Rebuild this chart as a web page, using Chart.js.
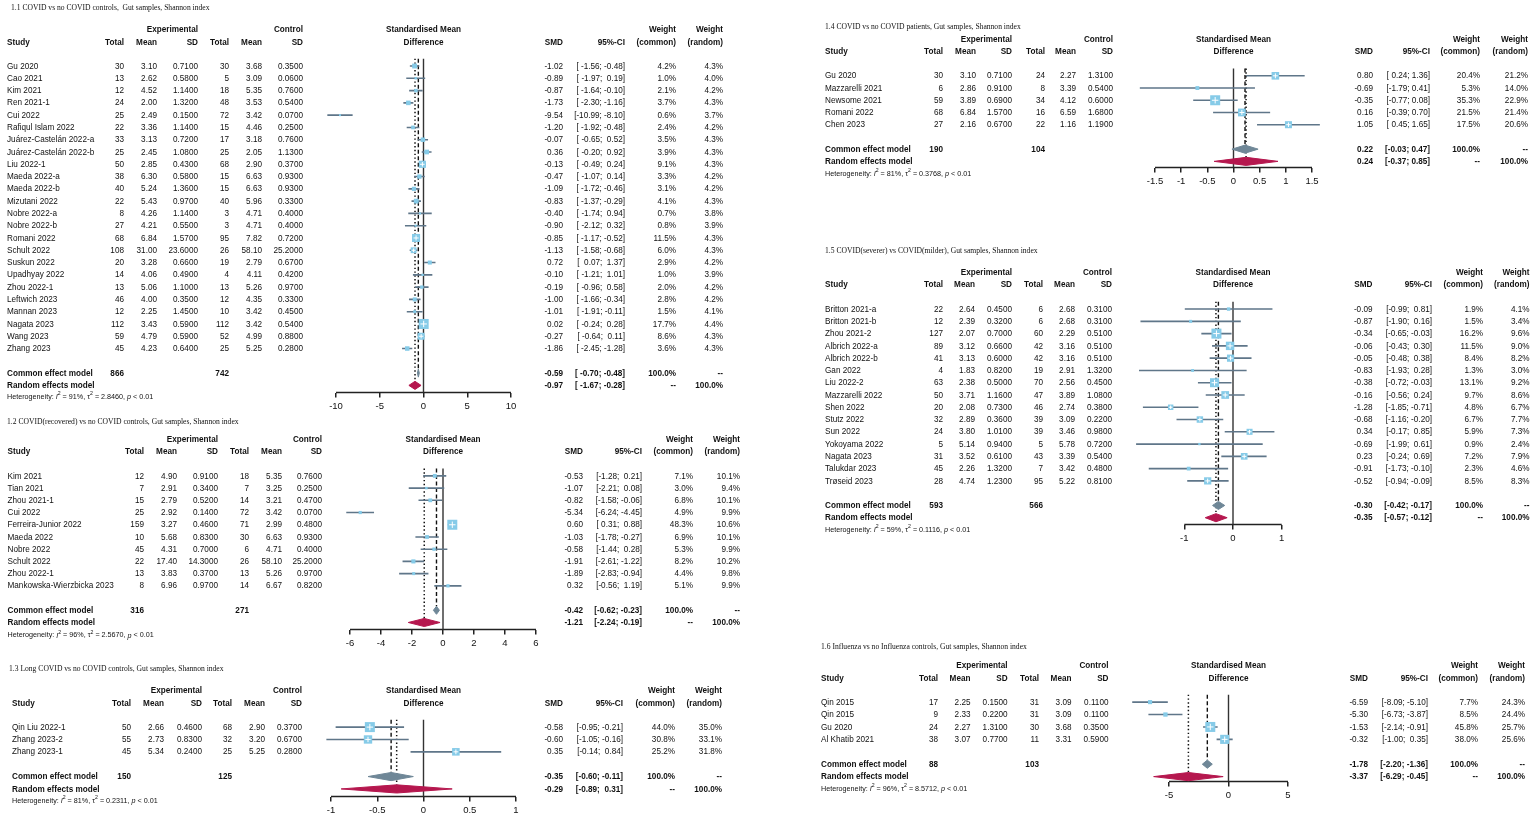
<!DOCTYPE html>
<html>
<head>
<meta charset="utf-8">
<script src="https://cdn.jsdelivr.net/npm/chart.js@4.4.1/dist/chart.umd.min.js"></script>
<style>
  html, body { margin: 0; padding: 0; background: #fff; width: 1535px; height: 818px; overflow: hidden; }
  body { position: relative; }
  canvas { position: absolute; }
</style>
</head>
<body>
<canvas id="p1"></canvas>
<canvas id="p2"></canvas>
<canvas id="p3"></canvas>
<canvas id="p4"></canvas>
<canvas id="p5"></canvas>
<canvas id="p6"></canvas>
<script>
// ---------- 1.1 COVID vs no COVID controls ----------
const title1 = '1.1 COVID vs no COVID controls,  Gut samples, Shannon index';
const studies1 = ['Gu 2020', 'Cao 2021', 'Kim 2021', 'Ren 2021-1', 'Cui 2022', 'Rafiqul Islam 2022',
  'Juárez-Castelán 2022-a', 'Juárez-Castelán 2022-b', 'Liu 2022-1', 'Maeda 2022-a', 'Maeda 2022-b',
  'Mizutani 2022', 'Nobre 2022-a', 'Nobre 2022-b', 'Romani 2022', 'Schult 2022', 'Suskun 2022',
  'Upadhyay 2022', 'Zhou 2022-1', 'Leftwich 2023', 'Mannan 2023', 'Nagata 2023', 'Wang 2023', 'Zhang 2023'];
const expN1 = [30, 13, 12, 24, 25, 22, 33, 25, 50, 38, 40, 22, 8, 27, 68, 108, 20, 14, 13, 46, 12, 112, 59, 45];
const expMean1 = [3.10, 2.62, 4.52, 2.00, 2.49, 3.36, 3.13, 2.45, 2.85, 6.30, 5.24, 5.43, 4.26, 4.21, 6.84, 31.00, 3.28, 4.06, 5.06, 4.00, 2.25, 3.43, 4.79, 4.23];
const expSD1 = [0.71, 0.58, 1.14, 1.32, 0.15, 1.14, 0.72, 1.08, 0.43, 0.58, 1.36, 0.97, 1.14, 0.55, 1.57, 23.6, 0.66, 0.49, 1.10, 0.35, 1.45, 0.59, 0.59, 0.64];
const ctlN1 = [30, 5, 18, 48, 72, 15, 17, 25, 68, 15, 15, 40, 3, 3, 95, 26, 19, 4, 13, 12, 10, 112, 52, 25];
const ctlMean1 = [3.68, 3.09, 5.35, 3.53, 3.42, 4.46, 3.18, 2.05, 2.90, 6.63, 6.63, 5.96, 4.71, 4.71, 7.82, 58.10, 2.79, 4.11, 5.26, 4.35, 3.42, 3.42, 4.99, 5.25];
const ctlSD1 = [0.35, 0.06, 0.76, 0.54, 0.07, 0.25, 0.76, 1.13, 0.37, 0.93, 0.93, 0.33, 0.40, 0.40, 0.72, 25.2, 0.67, 0.42, 0.97, 0.33, 0.45, 0.54, 0.88, 0.28];
const smd1 = [-1.02, -0.89, -0.87, -1.73, -9.54, -1.20, -0.07, 0.36, -0.13, -0.47, -1.09, -0.83, -0.40, -0.90, -0.85, -1.13, 0.72, -0.10, -0.19, -1.00, -1.01, 0.02, -0.27, -1.86];
const ciLo1 = [-1.56, -1.97, -1.64, -2.30, -10.99, -1.92, -0.65, -0.20, -0.49, -1.07, -1.72, -1.37, -1.74, -2.12, -1.17, -1.58, 0.07, -1.21, -0.96, -1.66, -1.91, -0.24, -0.64, -2.45];
const ciHi1 = [-0.48, 0.19, -0.10, -1.16, -8.10, -0.48, 0.52, 0.92, 0.24, 0.14, -0.46, -0.29, 0.94, 0.32, -0.52, -0.68, 1.37, 1.01, 0.58, -0.34, -0.11, 0.28, 0.11, -1.28];
const wCommon1 = [4.2, 1.0, 2.1, 3.7, 0.6, 2.4, 3.5, 3.9, 9.1, 3.3, 3.1, 4.1, 0.7, 0.8, 11.5, 6.0, 2.9, 1.0, 2.0, 2.8, 1.5, 17.7, 8.6, 3.6];
const wRandom1 = [4.3, 4.0, 4.2, 4.3, 3.7, 4.2, 4.3, 4.3, 4.3, 4.2, 4.2, 4.3, 3.8, 3.9, 4.3, 4.3, 4.2, 3.9, 4.2, 4.2, 4.1, 4.4, 4.3, 4.3];
const common1 = [-0.59, -0.70, -0.48];
const random1 = [-0.97, -1.67, -0.28];
const totals1 = [866, 742];
const het1 = ['91%', '2.8460', '< 0.01'];
const ticks1 = [-10, -5, 0, 5, 10];

// ---------- 1.2 COVID(recovered) vs no COVID controls ----------
const title2 = '1.2 COVID(recovered) vs no COVID controls, Gut samples, Shannon index';
const studies2 = ['Kim 2021', 'Tian 2021', 'Zhou 2021-1', 'Cui 2022', 'Ferreira-Junior 2022', 'Maeda 2022',
  'Nobre 2022', 'Schult 2022', 'Zhou 2022-1', 'Mankowska-Wierzbicka 2023'];
const expN2 = [12, 7, 15, 25, 159, 10, 45, 22, 13, 8];
const expMean2 = [4.90, 2.91, 2.79, 2.92, 3.27, 5.68, 4.31, 17.40, 3.83, 6.96];
const expSD2 = [0.91, 0.34, 0.52, 0.14, 0.46, 0.83, 0.70, 14.3, 0.37, 0.97];
const ctlN2 = [18, 7, 14, 72, 71, 30, 6, 26, 13, 14];
const ctlMean2 = [5.35, 3.25, 3.21, 3.42, 2.99, 6.63, 4.71, 58.10, 5.26, 6.67];
const ctlSD2 = [0.76, 0.25, 0.47, 0.07, 0.48, 0.93, 0.40, 25.2, 0.97, 0.82];
const smd2 = [-0.53, -1.07, -0.82, -5.34, 0.60, -1.03, -0.58, -1.91, -1.89, 0.32];
const ciLo2 = [-1.28, -2.21, -1.58, -6.24, 0.31, -1.78, -1.44, -2.61, -2.83, -0.56];
const ciHi2 = [0.21, 0.08, -0.06, -4.45, 0.88, -0.27, 0.28, -1.22, -0.94, 1.19];
const wCommon2 = [7.1, 3.0, 6.8, 4.9, 48.3, 6.9, 5.3, 8.2, 4.4, 5.1];
const wRandom2 = [10.1, 9.4, 10.1, 9.9, 10.6, 10.1, 9.9, 10.2, 9.8, 9.9];
const common2 = [-0.42, -0.62, -0.23];
const random2 = [-1.21, -2.24, -0.19];
const totals2 = [316, 271];
const het2 = ['96%', '2.5670', '< 0.01'];
const ticks2 = [-6, -4, -2, 0, 2, 4, 6];

// ---------- 1.3 Long COVID vs no COVID controls ----------
const title3 = '1.3 Long COVID vs no COVID controls, Gut samples, Shannon index';
const studies3 = ['Qin Liu 2022-1', 'Zhang 2023-2', 'Zhang 2023-1'];
const expN3 = [50, 55, 45];
const expMean3 = [2.66, 2.73, 5.34];
const expSD3 = [0.46, 0.83, 0.24];
const ctlN3 = [68, 32, 25];
const ctlMean3 = [2.90, 3.20, 5.25];
const ctlSD3 = [0.37, 0.67, 0.28];
const smd3 = [-0.58, -0.60, 0.35];
const ciLo3 = [-0.95, -1.05, -0.14];
const ciHi3 = [-0.21, -0.16, 0.84];
const wCommon3 = [44.0, 30.8, 25.2];
const wRandom3 = [35.0, 33.1, 31.8];
const common3 = [-0.35, -0.60, -0.11];
const random3 = [-0.29, -0.89, 0.31];
const totals3 = [150, 125];
const het3 = ['81%', '0.2311', '< 0.01'];
const ticks3 = [-1, -0.5, 0, 0.5, 1];

// ---------- 1.4 COVID vs no COVID patients ----------
const title4 = '1.4 COVID vs no COVID patients, Gut samples, Shannon index';
const studies4 = ['Gu 2020', 'Mazzarelli 2021', 'Newsome 2021', 'Romani 2022', 'Chen 2023'];
const expN4 = [30, 6, 59, 68, 27];
const expMean4 = [3.10, 2.86, 3.89, 6.84, 2.16];
const expSD4 = [0.71, 0.91, 0.69, 1.57, 0.67];
const ctlN4 = [24, 8, 34, 16, 22];
const ctlMean4 = [2.27, 3.39, 4.12, 6.59, 1.16];
const ctlSD4 = [1.31, 0.54, 0.60, 1.68, 1.19];
const smd4 = [0.80, -0.69, -0.35, 0.16, 1.05];
const ciLo4 = [0.24, -1.79, -0.77, -0.39, 0.45];
const ciHi4 = [1.36, 0.41, 0.08, 0.70, 1.65];
const wCommon4 = [20.4, 5.3, 35.3, 21.5, 17.5];
const wRandom4 = [21.2, 14.0, 22.9, 21.4, 20.6];
const common4 = [0.22, -0.03, 0.47];
const random4 = [0.24, -0.37, 0.85];
const totals4 = [190, 104];
const het4 = ['81%', '0.3768', '< 0.01'];
const ticks4 = [-1.5, -1, -0.5, 0, 0.5, 1, 1.5];

// ---------- 1.5 COVID(severer) vs COVID(milder) ----------
const title5 = '1.5 COVID(severer) vs COVID(milder), Gut samples, Shannon index';
const studies5 = ['Britton 2021-a', 'Britton 2021-b', 'Zhou 2021-2', 'Albrich 2022-a', 'Albrich 2022-b', 'Gan 2022',
  'Liu 2022-2', 'Mazzarelli 2022', 'Shen 2022', 'Stutz 2022', 'Sun 2022', 'Yokoyama 2022', 'Nagata 2023',
  'Talukdar 2023', 'Trøseid 2023'];
const expN5 = [22, 12, 127, 89, 41, 4, 63, 50, 20, 32, 24, 5, 31, 45, 28];
const expMean5 = [2.64, 2.39, 2.07, 3.12, 3.13, 1.83, 2.38, 3.71, 2.08, 2.89, 3.80, 5.14, 3.52, 2.26, 4.74];
const expSD5 = [0.45, 0.32, 0.70, 0.66, 0.60, 0.82, 0.50, 1.16, 0.73, 0.36, 1.01, 0.94, 0.61, 1.32, 1.23];
const ctlN5 = [6, 6, 60, 42, 42, 19, 70, 47, 46, 39, 39, 5, 43, 7, 95];
const ctlMean5 = [2.68, 2.68, 2.29, 3.16, 3.16, 2.91, 2.56, 3.89, 2.74, 3.09, 3.46, 5.78, 3.39, 3.42, 5.22];
const ctlSD5 = [0.31, 0.31, 0.51, 0.51, 0.51, 1.32, 0.45, 1.08, 0.38, 0.22, 0.98, 0.72, 0.54, 0.48, 0.81];
const smd5 = [-0.09, -0.87, -0.34, -0.06, -0.05, -0.83, -0.38, -0.16, -1.28, -0.68, 0.34, -0.69, 0.23, -0.91, -0.52];
const ciLo5 = [-0.99, -1.90, -0.65, -0.43, -0.48, -1.93, -0.72, -0.56, -1.85, -1.16, -0.17, -1.99, -0.24, -1.73, -0.94];
const ciHi5 = [0.81, 0.16, -0.03, 0.30, 0.38, 0.28, -0.03, 0.24, -0.71, -0.20, 0.85, 0.61, 0.69, -0.10, -0.09];
const wCommon5 = [1.9, 1.5, 16.2, 11.5, 8.4, 1.3, 13.1, 9.7, 4.8, 6.7, 5.9, 0.9, 7.2, 2.3, 8.5];
const wRandom5 = [4.1, 3.4, 9.6, 9.0, 8.2, 3.0, 9.2, 8.6, 6.7, 7.7, 7.3, 2.4, 7.9, 4.6, 8.3];
const common5 = [-0.30, -0.42, -0.17];
const random5 = [-0.35, -0.57, -0.12];
const totals5 = [593, 566];
const het5 = ['59%', '0.1116', '< 0.01'];
const ticks5 = [-1, 0, 1];

// ---------- 1.6 Influenza vs no Influenza controls ----------
const title6 = '1.6 Influenza vs no Influenza controls, Gut samples, Shannon index';
const studies6 = ['Qin 2015', 'Qin 2015', 'Gu 2020', 'Al Khatib 2021'];
const expN6 = [17, 9, 24, 38];
const expMean6 = [2.25, 2.33, 2.27, 3.07];
const expSD6 = [0.15, 0.22, 1.31, 0.77];
const ctlN6 = [31, 31, 30, 11];
const ctlMean6 = [3.09, 3.09, 3.68, 3.31];
const ctlSD6 = [0.11, 0.11, 0.35, 0.59];
const smd6 = [-6.59, -5.30, -1.53, -0.32];
const ciLo6 = [-8.09, -6.73, -2.14, -1.00];
const ciHi6 = [-5.10, -3.87, -0.91, 0.35];
const wCommon6 = [7.7, 8.5, 45.8, 38.0];
const wRandom6 = [24.3, 24.4, 25.7, 25.6];
const common6 = [-1.78, -2.20, -1.36];
const random6 = [-3.37, -6.29, -0.45];
const totals6 = [88, 103];
const het6 = ['96%', '8.5712', '< 0.01'];
const ticks6 = [-5, 0, 5];

// ---------- drawing ----------
const SX = 0.86;
const FS = 9.5;
const SANS = '"Liberation Sans", Arial, Helvetica, sans-serif';
const SERIF = '"Liberation Serif", "Times New Roman", serif';
const TXT = '#111';
const BOX = '#86cbe8';
const CI_COL = '#5f7689';
const COMMON_COL = '#6f8797';
const RANDOM_COL = '#b5174e';
const TICK_FONT = 9.5, TICK_LEN = 5, TICK_PAD = 3;

function text(ctx, s, x, y, align, font, sx) {
  ctx.save();
  ctx.font = font;
  ctx.fillStyle = TXT;
  ctx.textAlign = align;
  ctx.textBaseline = 'middle';
  ctx.translate(x, y);
  ctx.scale(sx || SX, 1);
  ctx.fillText(s, 0, 0);
  ctx.restore();
}

function runs(ctx, parts, x, y) {
  let cx = x;
  parts.forEach(([s, font, dy]) => {
    ctx.font = font;
    text(ctx, s, cx, y + (dy || 0), 'left', font, 1);
    cx += ctx.measureText(s).width;
  });
}

function forest(id, d, L) {
  const n = d.study.length;
  const rowC = n + 1, rowR = n + 2;
  const t0 = d.ticks[0], t1 = d.ticks[d.ticks.length - 1];
  const ppu = (L.pxR - L.pxL) / (t1 - t0);
  const span = t1 - t0;
  const dmin = Math.min(t0, ...d.lo, d.random[1]) - 0.05 * span;
  const dmax = Math.max(t1, ...d.hi, d.random[2]) + 0.05 * span;
  const areaL = L.pxL - (t0 - dmin) * ppu;
  const areaR = L.pxR + (dmax - t1) * ppu;
  const axisH = TICK_LEN + TICK_FONT * 1.2 + 2 * TICK_PAD;

  const cv = document.getElementById(id);
  cv.width = L.width;
  cv.height = Math.round(L.axisY - L.top + axisH);
  cv.style.left = L.left + 'px';
  cv.style.top = L.top + 'px';

  const yMin = (L.top - L.y0) / L.rowH;
  const axisRow = (L.axisY - L.y0) / L.rowH;
  const topRow = -0.6;
  const dh = 0.33;

  const wMax = Math.max(...d.wCom);
  const side = d.wCom.map(w => Math.max(2, 10 * Math.sqrt(w / wMax)));
  const est = d.smd.map((m, i) => ({ x: m, y: i }));
  const ci = [];
  d.lo.forEach((lo, i) => { ci.push({ x: lo, y: i }, { x: d.hi[i], y: i }, { x: null, y: null }); });
  const diamond = (v, r) => [{ x: v[1], y: r }, { x: v[0], y: r - dh }, { x: v[2], y: r }, { x: v[0], y: r + dh }, { x: v[1], y: r }];

  const lineDs = (data, color, width, dash) => ({
    type: 'scatter', showLine: true, data, borderColor: color, borderWidth: width,
    borderDash: dash || [], pointRadius: 0, clip: false, spanGaps: false
  });

  const allLo = d.lo.concat([d.common[1], d.random[1]]).map(v => v.toFixed(2).length);
  const allHi = d.hi.concat([d.common[2], d.random[2]]).map(v => v.toFixed(2).length);
  const wl = Math.max(...allLo), wh = Math.max(...allHi);
  const ciStr = (lo, hi) => '[' + lo.toFixed(2).padStart(wl) + '; ' + hi.toFixed(2).padStart(wh) + ']';

  const F = FS + 'px ' + SANS;
  const FB = 'bold ' + FS + 'px ' + SANS;

  const tablePlugin = {
    id: 'forestTable' + id,
    afterDraw(chart) {
      const { ctx } = chart;
      const y = chart.scales.y;
      const X = v => v - L.left;
      const Y = v => v - L.top;
      const c = L.c;
      const mid = X((L.pxL + L.pxR) / 2);

      text(ctx, d.title, X(L.titleX), Y(L.titleY), 'left', '7.6px ' + SERIF, 1);

      // header
      text(ctx, 'Experimental', X(c.s1), Y(L.expY), 'right', FB);
      text(ctx, 'Control', X(c.s2), Y(L.expY), 'right', FB);
      text(ctx, 'Standardised Mean', mid, Y(L.expY), 'center', FB);
      text(ctx, 'Weight', X(c.wc), Y(L.expY), 'right', FB);
      text(ctx, 'Weight', X(c.wr), Y(L.expY), 'right', FB);
      const hy = Y(L.studyY);
      text(ctx, 'Study', X(c.study), hy, 'left', FB);
      [['Total', c.n1], ['Mean', c.m1], ['SD', c.s1], ['Total', c.n2], ['Mean', c.m2], ['SD', c.s2],
       ['SMD', c.smd], ['95%-CI', c.ci], ['(common)', c.wc], ['(random)', c.wr]]
        .forEach(([s, cx]) => text(ctx, s, X(cx), hy, 'right', FB));
      text(ctx, 'Difference', mid, hy, 'center', FB);

      // study rows
      d.study.forEach((s, i) => {
        const yy = y.getPixelForValue(i);
        text(ctx, s, X(c.study), yy, 'left', F);
        text(ctx, String(d.eN[i]), X(c.n1), yy, 'right', F);
        text(ctx, d.eMean[i].toFixed(2), X(c.m1), yy, 'right', F);
        text(ctx, d.eSD[i].toFixed(4), X(c.s1), yy, 'right', F);
        text(ctx, String(d.cN[i]), X(c.n2), yy, 'right', F);
        text(ctx, d.cMean[i].toFixed(2), X(c.m2), yy, 'right', F);
        text(ctx, d.cSD[i].toFixed(4), X(c.s2), yy, 'right', F);
        text(ctx, d.smd[i].toFixed(2), X(c.smd), yy, 'right', F);
        text(ctx, ciStr(d.lo[i], d.hi[i]), X(c.ci), yy, 'right', F);
        text(ctx, d.wCom[i].toFixed(1) + '%', X(c.wc), yy, 'right', F);
        text(ctx, d.wRan[i].toFixed(1) + '%', X(c.wr), yy, 'right', F);
      });

      // pooled rows
      const yc = y.getPixelForValue(rowC), yr = y.getPixelForValue(rowR);
      text(ctx, 'Common effect model', X(c.study), yc, 'left', FB);
      text(ctx, String(d.totals[0]), X(c.n1), yc, 'right', FB);
      text(ctx, String(d.totals[1]), X(c.n2), yc, 'right', FB);
      text(ctx, d.common[0].toFixed(2), X(c.smd), yc, 'right', FB);
      text(ctx, ciStr(d.common[1], d.common[2]), X(c.ci), yc, 'right', FB);
      text(ctx, '100.0%', X(c.wc), yc, 'right', FB);
      text(ctx, '--', X(c.wr), yc, 'right', FB);
      text(ctx, 'Random effects model', X(c.study), yr, 'left', FB);
      text(ctx, d.random[0].toFixed(2), X(c.smd), yr, 'right', FB);
      text(ctx, ciStr(d.random[1], d.random[2]), X(c.ci), yr, 'right', FB);
      text(ctx, '--', X(c.wc), yr, 'right', FB);
      text(ctx, '100.0%', X(c.wr), yr, 'right', FB);

      // heterogeneity
      const f7 = '7.2px ' + SANS, i7 = 'italic 7.2px ' + SANS, f5 = '5.2px ' + SANS;
      runs(ctx, [['Heterogeneity: ', f7], ['I', i7], ['2', f5, -3], [' = ' + d.het[0] + ', ', f7],
        ['\u03c4', f7], ['2', f5, -3], [' = ' + d.het[1] + ', ', f7], ['p', i7], [' ' + d.het[2], f7]],
        X(c.study), Y(L.hetY));
    }
  };

  new Chart(cv, {
    type: 'scatter',
    data: {
      datasets: [
        { type: 'scatter', data: est, pointStyle: 'cross', pointRadius: side.map(s => s >= 5 ? s * 0.32 : 0),
          borderColor: '#ffffff', borderWidth: 1, clip: false },
        { type: 'scatter', data: est, pointStyle: 'rect', pointRadius: side.map(s => s / Math.SQRT2),
          backgroundColor: BOX, borderWidth: 0, clip: false },
        lineDs(ci, CI_COL, 1.6),
        Object.assign(lineDs(diamond(d.common, rowC), COMMON_COL, 1), { fill: 'shape', backgroundColor: COMMON_COL }),
        Object.assign(lineDs(diamond(d.random, rowR), RANDOM_COL, 1), { fill: 'shape', backgroundColor: RANDOM_COL }),
        lineDs([{ x: d.common[0], y: topRow }, { x: d.common[0], y: rowC - dh }], '#111', 1.4, [4, 2.5]),
        lineDs([{ x: d.random[0], y: topRow }, { x: d.random[0], y: rowR - dh }], '#111', 1.5, [1.4, 2.4]),
        lineDs([{ x: 0, y: topRow }, { x: 0, y: axisRow }], '#333', 1.4),
        lineDs([{ x: t0, y: axisRow }, { x: t1, y: axisRow }], '#222', 1.5)
      ]
    },
    options: {
      responsive: false,
      animation: false,
      events: [],
      layout: { autoPadding: false, padding: { left: areaL - L.left, right: L.left + L.width - areaR, top: 0, bottom: 0 } },
      plugins: { legend: { display: false }, tooltip: { enabled: false } },
      scales: {
        x: {
          type: 'linear', min: dmin, max: dmax,
          afterBuildTicks: axis => { axis.ticks = d.ticks.map(v => ({ value: v })); },
          border: { display: false },
          grid: { display: true, drawOnChartArea: false, drawTicks: true, tickLength: TICK_LEN, color: '#222', lineWidth: 1.5 },
          ticks: { autoSkip: false, maxRotation: 0, padding: TICK_PAD, color: TXT,
            font: { family: SANS, size: TICK_FONT }, callback: v => String(v) }
        },
        y: { type: 'linear', display: false, reverse: true, min: yMin, max: axisRow }
      }
    },
    plugins: [tablePlugin]
  });
}

forest('p1', { title: title1, study: studies1, eN: expN1, eMean: expMean1, eSD: expSD1, cN: ctlN1, cMean: ctlMean1, cSD: ctlSD1,
  smd: smd1, lo: ciLo1, hi: ciHi1, wCom: wCommon1, wRan: wRandom1, common: common1, random: random1, totals: totals1, het: het1, ticks: ticks1 },
  { left: 0, top: 0, width: 770, y0: 66, rowH: 12.28, axisY: 392.5, titleX: 11, titleY: 8, expY: 29, studyY: 42, hetY: 397,
    pxL: 336, pxR: 511, c: { study: 7, n1: 124, m1: 157, s1: 198, n2: 229, m2: 262, s2: 303, smd: 563, ci: 625, wc: 676, wr: 723 } });

forest('p2', { title: title2, study: studies2, eN: expN2, eMean: expMean2, eSD: expSD2, cN: ctlN2, cMean: ctlMean2, cSD: ctlSD2,
  smd: smd2, lo: ciLo2, hi: ciHi2, wCom: wCommon2, wRan: wRandom2, common: common2, random: random2, totals: totals2, het: het2, ticks: ticks2 },
  { left: 0, top: 412, width: 770, y0: 476, rowH: 12.24, axisY: 630, titleX: 7, titleY: 422, expY: 439.5, studyY: 451.7, hetY: 635.5,
    pxL: 350, pxR: 536, c: { study: 7.5, n1: 144, m1: 177, s1: 218, n2: 249, m2: 282, s2: 322, smd: 583, ci: 642, wc: 693, wr: 740 } });

forest('p3', { title: title3, study: studies3, eN: expN3, eMean: expMean3, eSD: expSD3, cN: ctlN3, cMean: ctlMean3, cSD: ctlSD3,
  smd: smd3, lo: ciLo3, hi: ciHi3, wCom: wCommon3, wRan: wRandom3, common: common3, random: random3, totals: totals3, het: het3, ticks: ticks3 },
  { left: 0, top: 660, width: 770, y0: 727.3, rowH: 12.4, axisY: 797, titleX: 9, titleY: 669, expY: 690.7, studyY: 703.3, hetY: 801,
    pxL: 331, pxR: 516, c: { study: 12, n1: 131, m1: 164, s1: 202, n2: 232, m2: 265, s2: 302, smd: 563, ci: 623, wc: 675, wr: 722 } });

forest('p4', { title: title4, study: studies4, eN: expN4, eMean: expMean4, eSD: expSD4, cN: ctlN4, cMean: ctlMean4, cSD: ctlSD4,
  smd: smd4, lo: ciLo4, hi: ciHi4, wCom: wCommon4, wRan: wRandom4, common: common4, random: random4, totals: totals4, het: het4, ticks: ticks4 },
  { left: 770, top: 0, width: 765, y0: 76, rowH: 12.25, axisY: 168, titleX: 825, titleY: 27, expY: 39, studyY: 51.7, hetY: 174,
    pxL: 1155, pxR: 1312, c: { study: 825, n1: 943, m1: 976, s1: 1012, n2: 1045, m2: 1076, s2: 1113, smd: 1373, ci: 1430, wc: 1480, wr: 1528 } });

forest('p5', { title: title5, study: studies5, eN: expN5, eMean: expMean5, eSD: expSD5, cN: ctlN5, cMean: ctlMean5, cSD: ctlSD5,
  smd: smd5, lo: ciLo5, hi: ciHi5, wCom: wCommon5, wRan: wRandom5, common: common5, random: random5, totals: totals5, het: het5, ticks: ticks5 },
  { left: 770, top: 240, width: 765, y0: 309, rowH: 12.26, axisY: 524.3, titleX: 825, titleY: 251, expY: 272.3, studyY: 284.3, hetY: 530,
    pxL: 1184.3, pxR: 1281.7, c: { study: 825, n1: 943, m1: 975, s1: 1012, n2: 1043, m2: 1075, s2: 1112, smd: 1372.5, ci: 1432, wc: 1483, wr: 1529.5 } });

forest('p6', { title: title6, study: studies6, eN: expN6, eMean: expMean6, eSD: expSD6, cN: ctlN6, cMean: ctlMean6, cSD: ctlSD6,
  smd: smd6, lo: ciLo6, hi: ciHi6, wCom: wCommon6, wRan: wRandom6, common: common6, random: random6, totals: totals6, het: het6, ticks: ticks6 },
  { left: 770, top: 636, width: 765, y0: 702.3, rowH: 12.45, axisY: 782, titleX: 821, titleY: 646.7, expY: 665.7, studyY: 678.3, hetY: 789,
    pxL: 1169, pxR: 1288, c: { study: 821, n1: 938, m1: 970.5, s1: 1007.6, n2: 1039, m2: 1071.5, s2: 1108.5, smd: 1368, ci: 1428, wc: 1478, wr: 1525 } });
</script>
</body>
</html>
